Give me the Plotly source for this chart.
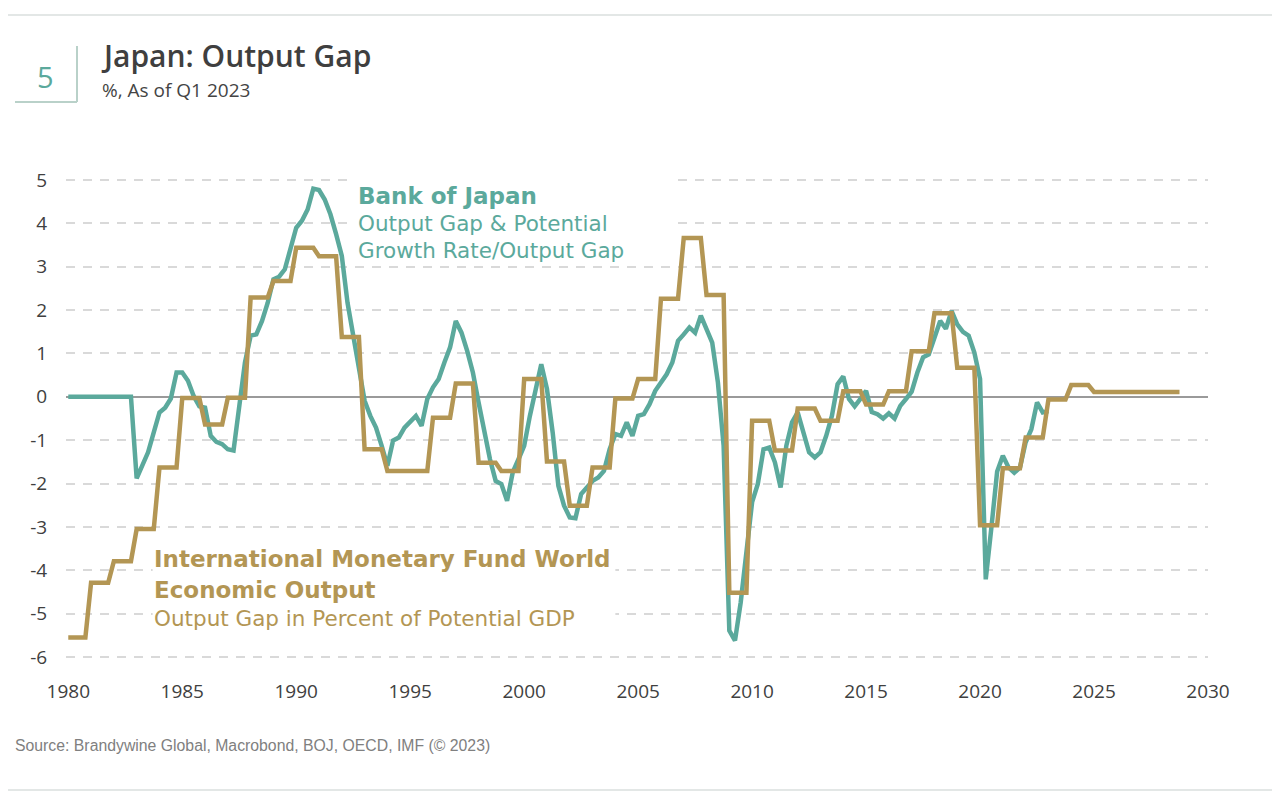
import plotly.graph_objects as go

# ---------------- data ----------------
boj_start_year = 1980
boj_gap = [
    0, 0, 0, 0, 0, 0, 0, 0, 0, 0, 0, 0,
    -1.88, -1.55, -1.28, -0.82, -0.36, -0.25, -0.04, 0.56,
    0.56, 0.37, 0.02, -0.22, -0.25, -0.90, -1.04, -1.09,
    -1.21, -1.24, -0.28, 0.79, 1.41, 1.44, 1.75, 2.17,
    2.71, 2.77, 2.94, 3.40, 3.90, 4.06, 4.32, 4.80,
    4.77, 4.55, 4.21, 3.75, 3.25, 2.17, 1.41, 0.56,
    -0.09, -0.44, -0.71, -1.13, -1.59, -1.01, -0.94, -0.71,
    -0.59, -0.44, -0.67, -0.05, 0.22, 0.41, 0.79, 1.14,
    1.75, 1.48, 1.06, 0.56, -0.13, -0.82, -1.44, -1.94,
    -2.01, -2.40, -1.74, -1.44, -1.13, -0.44, 0.14, 0.75,
    0.18, -0.82, -2.05, -2.51, -2.78, -2.80, -2.24, -2.09,
    -1.94, -1.86, -1.71, -1.21, -0.86, -0.90, -0.59, -0.90,
    -0.44, -0.40, -0.17, 0.14, 0.33, 0.52, 0.79, 1.29,
    1.44, 1.60, 1.48, 1.87, 1.56, 1.25, 0.33, -1.13,
    -5.39, -5.62, -4.74, -3.59, -2.43, -2.01, -1.21, -1.17,
    -1.51, -2.09, -1.13, -0.59, -0.36, -0.82, -1.28, -1.40,
    -1.28, -0.90, -0.44, 0.29, 0.47, -0.05, -0.22, -0.05,
    0.14, -0.35, -0.40, -0.50, -0.38, -0.50, -0.21, -0.05,
    0.12, 0.56, 0.91, 0.98, 1.37, 1.75, 1.57, 1.98,
    1.67, 1.50, 1.41, 1.02, 0.41, -4.21, -3.00, -1.72,
    -1.36, -1.63, -1.75, -1.63, -1.05, -0.75, -0.13, -0.36,
    -0.33,
]

imf_years = list(range(1980, 2029))
imf_gap = [
    -5.55, -4.29, -3.79, -3.05, -1.63, -0.03, -0.64, -0.02, 2.29, 2.67,
    3.44, 3.24, 1.38, -1.21, -1.71, -1.71, -0.48, 0.31, -1.52, -1.71,
    0.41, -1.49, -2.51, -1.63, -0.04, 0.41, 2.26, 3.66, 2.35, -4.52,
    -0.55, -1.24, -0.27, -0.55, 0.13, -0.18, 0.13, 1.05, 1.93, 0.67,
    -2.96, -1.65, -0.94, -0.06, 0.27, 0.11, 0.11, 0.11, 0.11,
]

x_ticks = [1980, 1985, 1990, 1995, 2000, 2005, 2010, 2015, 2020, 2025, 2030]
y_ticks = [-6, -5, -4, -3, -2, -1, 0, 1, 2, 3, 4, 5]

TEAL = "#5BA99C"
GOLD = "#B39654"
FONT = "Open Sans"
LEG_FONT = "DejaVu Sans"

# quarterly positions
boj_x = [boj_start_year + i / 4 for i in range(len(boj_gap))]
imf_x, imf_q = [], []
for yr, v in zip(imf_years, imf_gap):
    for q in range(4):
        imf_x.append(yr + q / 4)
        imf_q.append(v)

# page has an 8px body margin: work in page pixels, convert to figure pixels
OFF = 8
W, H = 1280 - 2 * OFF, 805 - 2 * OFF
PLOT_LEFT, PLOT_RIGHT, PLOT_TOP, PLOT_BOTTOM = 66, 1208, 167, 670   # page pixels
L = PLOT_LEFT - OFF
R = W - (PLOT_RIGHT - OFF)
T = PLOT_TOP - OFF
B = H - (PLOT_BOTTOM - OFF)
PW, PH = W - L - R, H - T - B


def px(x):
    return (x - OFF - L) / PW


def py(y):
    return (H - B - (y - OFF)) / PH


fig = go.Figure()
fig.add_trace(go.Scatter(x=boj_x, y=boj_gap, mode="lines",
                         line=dict(color=TEAL, width=4.5), name="BOJ",
                         hoverinfo="skip"))
fig.add_trace(go.Scatter(x=imf_x, y=imf_q, mode="lines",
                         line=dict(color=GOLD, width=4.5), name="IMF",
                         hoverinfo="skip"))

# white boxes behind legend texts (interrupt gridlines)
fig.add_shape(type="rect", xref="x", yref="y", x0=1992.5, x1=2006.7, y0=3.15, y1=5.3,
              fillcolor="white", line_width=0, layer="between")
fig.add_shape(type="rect", xref="x", yref="y", x0=1983.7, x1=2004.0, y0=-5.4, y1=-3.4,
              fillcolor="white", line_width=0, layer="between")

# page decorations
fig.add_shape(type="line", xref="paper", yref="paper", x0=px(0), x1=px(1280), y0=py(15), y1=py(15),
              line=dict(color="#E3E7E6", width=2))
fig.add_shape(type="line", xref="paper", yref="paper", x0=px(0), x1=px(1280), y0=py(790), y1=py(790),
              line=dict(color="#E3E7E6", width=2))
fig.add_shape(type="line", xref="paper", yref="paper", x0=px(77), x1=px(77), y0=py(46), y1=py(102),
              line=dict(color="#B9D1C9", width=2))
fig.add_shape(type="line", xref="paper", yref="paper", x0=px(15), x1=px(77), y0=py(102), y1=py(102),
              line=dict(color="#B9D1C9", width=2))

ann = []
ann.append(dict(text="5", x=px(45), y=py(76), xref="paper", yref="paper", xanchor="center", yanchor="middle",
                showarrow=False, font=dict(family=FONT, size=29, color=TEAL)))
ann.append(dict(text="Japan: Output Gap", x=px(99), y=py(55.5), xref="paper", yref="paper",
                xanchor="left", yanchor="middle", showarrow=False,
                font=dict(family=FONT, size=30, color="#3F3F3F", weight=600)))
ann.append(dict(text="%, As of Q1 2023", x=px(100), y=py(90.5), xref="paper", yref="paper",
                xanchor="left", yanchor="middle", showarrow=False,
                font=dict(family=FONT, size=19, color="#444444")))
ann.append(dict(text="Source: Brandywine Global, Macrobond, BOJ, OECD, IMF (© 2023)", x=px(13), y=py(745),
                xref="paper", yref="paper", xanchor="left", yanchor="middle", showarrow=False,
                font=dict(family="Liberation Sans", size=15.8, color="#808080")))

# in-chart legend texts
legend_lines = [
    ("Bank of Japan", 357, 196, 23, "bold", TEAL),
    ("Output Gap &amp; Potential", 357, 223, 21.5, "normal", TEAL),
    ("Growth Rate/Output Gap", 357, 250, 21.5, "normal", TEAL),
    ("International Monetary Fund World", 153, 559, 23, "bold", GOLD),
    ("Economic Output", 153, 590, 23, "bold", GOLD),
    ("Output Gap in Percent of Potential GDP", 153, 618, 21.5, "normal", GOLD),
]
for txt, lx, ly, sz, wt, col in legend_lines:
    ann.append(dict(text=txt, x=px(lx - 1), y=py(ly), xref="paper", yref="paper",
                    xanchor="left", yanchor="middle", showarrow=False,
                    font=dict(family=LEG_FONT, size=sz, color=col, weight=wt)))

fig.update_layout(
    width=W, height=H,
    margin=dict(l=L, r=R, t=T, b=B, pad=0),
    paper_bgcolor="white", plot_bgcolor="white",
    showlegend=False,
    annotations=ann,
    font=dict(family=FONT, color="#404040"),
)
fig.update_xaxes(range=[1979.9, 2030], tickvals=x_ticks, ticktext=[str(v) for v in x_ticks],
                 showgrid=False, zeroline=False, showline=False,
                 ticks="outside", ticklen=4, tickcolor="rgba(0,0,0,0)",
                 tickfont=dict(family=FONT, size=19, color="#404040"))
fig.update_yaxes(range=[-6.3, 5.3], tickvals=y_ticks, ticktext=[str(v) for v in y_ticks],
                 showgrid=True, gridcolor="#D9D9D9", gridwidth=1.5, griddash="9px,8px",
                 zeroline=True, zerolinecolor="#9A9A9A", zerolinewidth=1.5,
                 showline=False, ticks="outside", ticklen=14, tickcolor="rgba(0,0,0,0)",
                 tickfont=dict(family=FONT, size=19, color="#404040"))

fig.write_html("out.html")
